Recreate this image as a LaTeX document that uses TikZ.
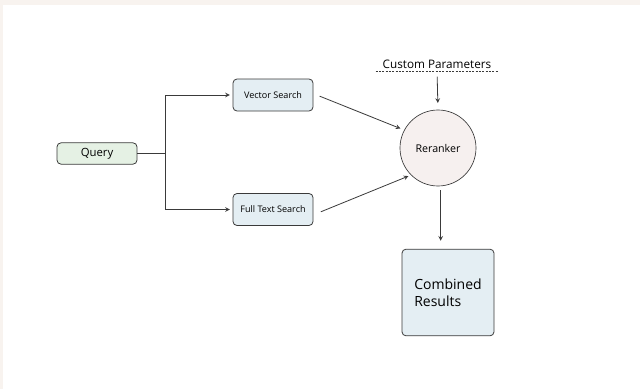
\documentclass[tikz,border=0pt]{standalone}
\usepackage{fontspec}
\setmainfont{Open Sans}
\usepackage{tikz}
\usetikzlibrary{shapes.geometric}
\definecolor{inkgray}{HTML}{3A3A3A}
\definecolor{queryfill}{HTML}{E5F1E4}
\definecolor{searchfill}{HTML}{E4EEF3}
\definecolor{rerankfill}{HTML}{F6F0EF}
\definecolor{framebeige}{HTML}{F8F3EF}
\tikzstyle{block}=[draw=inkgray, line width=0.6pt, rounded corners=3pt, text=black, inner sep=0pt]
\tikzstyle{querybox}=[block, fill=queryfill, minimum width=60pt, minimum height=16pt, font=\fontsize{8.5}{10}\selectfont]
\tikzstyle{searchbox}=[block, fill=searchfill, minimum width=60pt, minimum height=24pt, font=\fontsize{6.8}{8}\selectfont]
\tikzstyle{resultbox}=[block, fill=searchfill, minimum width=69pt, minimum height=65pt, align=left, font=\fontsize{10.5}{13}\selectfont]
\tikzstyle{rerank}=[draw=inkgray, line width=0.5pt, circle, fill=rerankfill, minimum size=57pt, inner sep=0pt, font=\fontsize{8}{10}\selectfont]
\tikzstyle{link}=[draw=inkgray, line width=0.6pt, ->, >=stealth]

\begin{document}
\begin{tikzpicture}[x=0.75pt, y=-0.75pt]
        \useasboundingbox (0, 0) rectangle (640, 389);
        \fill[framebeige] (0, 0) rectangle (640, 5);
        \fill[framebeige] (0, 0) rectangle (3, 389);
        \node[querybox] (Query) at (97, 153.5) {Query};
        \node[searchbox] (Vector) at (273, 95) {Vector Search};
        \node[searchbox] (FullText) at (273, 209.5) {Full Text Search};
        \node[rerank] (Reranker) at (438, 148) {Reranker};
        \node[font=\fontsize{8.8}{10}\selectfont, inner sep=1pt] (Params) at (437, 64) {Custom Parameters};
        \node[resultbox] (Combined) at (448, 292.5) {Combined\\Results};
        \coordinate (split) at (165, 153.5);
        \draw[inkgray, line width=0.6pt] (Query.east) -- (split);
        \draw[link] (split) |- ([xshift=-2pt]Vector.west);
        \draw[link] (split) |- ([xshift=-2pt]FullText.west);
        \draw[inkgray, line width=0.5pt, dash pattern=on 1.5pt off 1pt] ([xshift=-4pt, yshift=-1pt]Params.south west) -- ([xshift=4pt, yshift=-1pt]Params.south east);
        \draw[link, shorten <=5pt, shorten >=5pt] (Params.south) -- (Reranker.north);
        \draw[link, shorten <=5pt, shorten >=3pt] ([yshift=1pt]Vector.east) -- (Reranker.152);
        \draw[link, shorten <=6pt, shorten >=2pt] ([yshift=-4pt]FullText.east) -- (Reranker.225);
        \draw[link, shorten <=3pt, shorten >=6pt] ([xshift=2pt]Reranker.south) -- ([xshift=2pt]Reranker.south |- Combined.north);
    \end{tikzpicture}
\end{document}
